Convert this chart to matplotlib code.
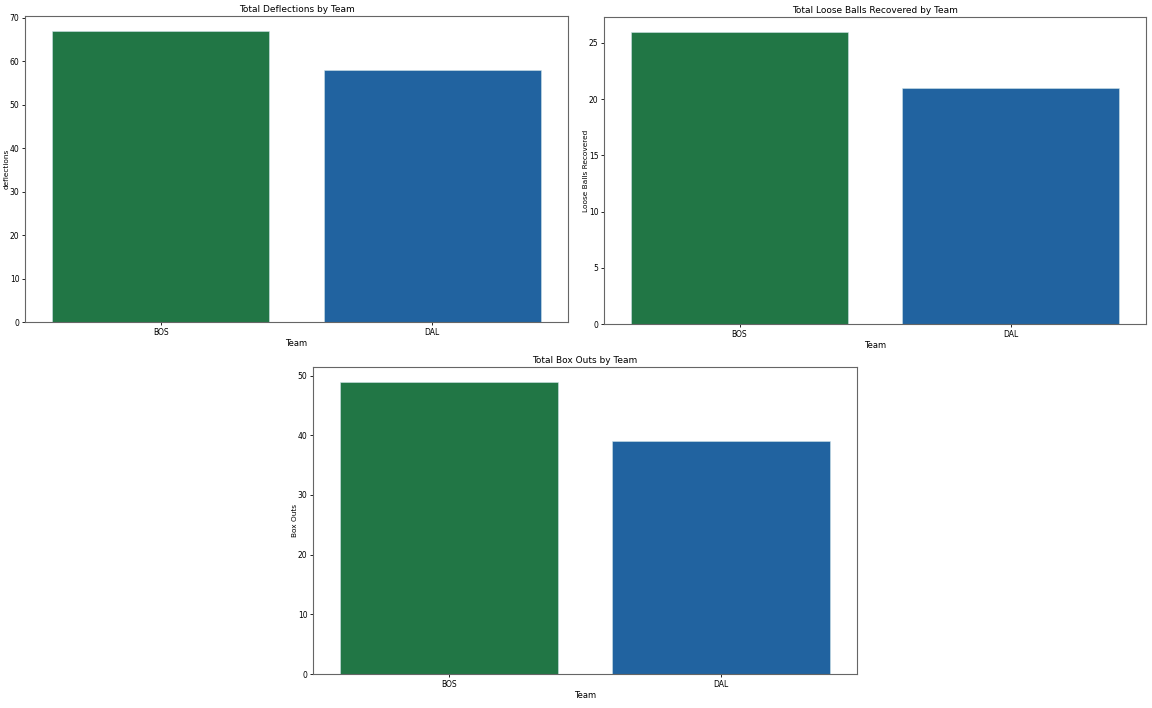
import matplotlib
matplotlib.use("Agg")
import matplotlib.pyplot as plt

teams = ["BOS", "DAL"]
deflections = [67, 58]
loose_balls = [26, 21]
box_outs = [49, 39]
bar_colors = ["#217645", "#2163a0"]

W, H = 1152, 708
fig = plt.figure(figsize=(W / 100, H / 100), dpi=100)

def rect(l, t, r, b):
    return [l / W, 1 - b / H, (r - l) / W, (b - t) / H]

fs = 6
specs = [
    (rect(25, 16, 568, 322), deflections, "Total Deflections by Team", "deflections"),
    (rect(604, 17, 1146, 324), loose_balls, "Total Loose Balls Recovered by Team", "Loose Balls Recovered"),
    (rect(313, 367, 857, 674), box_outs, "Total Box Outs by Team", "Box Outs"),
]

for r, vals, title, ylabel in specs:
    ax = fig.add_axes(r)
    x = list(range(len(teams)))
    ax.bar(x, vals, width=0.8, color=bar_colors, edgecolor="#cfe3e8", linewidth=0.4)
    ax.set_xlim(-0.5, len(teams) - 0.5)
    ax.set_xticks(x)
    ax.set_xticklabels(teams)
    ax.set_title(title, fontsize=fs + 0.5, pad=3)
    ax.set_xlabel("Team", fontsize=fs, labelpad=1.5)
    ax.set_ylabel(ylabel, fontsize=5.3)
    ax.yaxis.set_label_coords(-0.028, 0.5)
    ax.tick_params(labelsize=fs - 0.5, length=2.5, width=0.6, pad=1.5)
    for s in ax.spines.values():
        s.set_color("#666666")
        s.set_linewidth(0.8)

fig.savefig("out.png", dpi=100)
